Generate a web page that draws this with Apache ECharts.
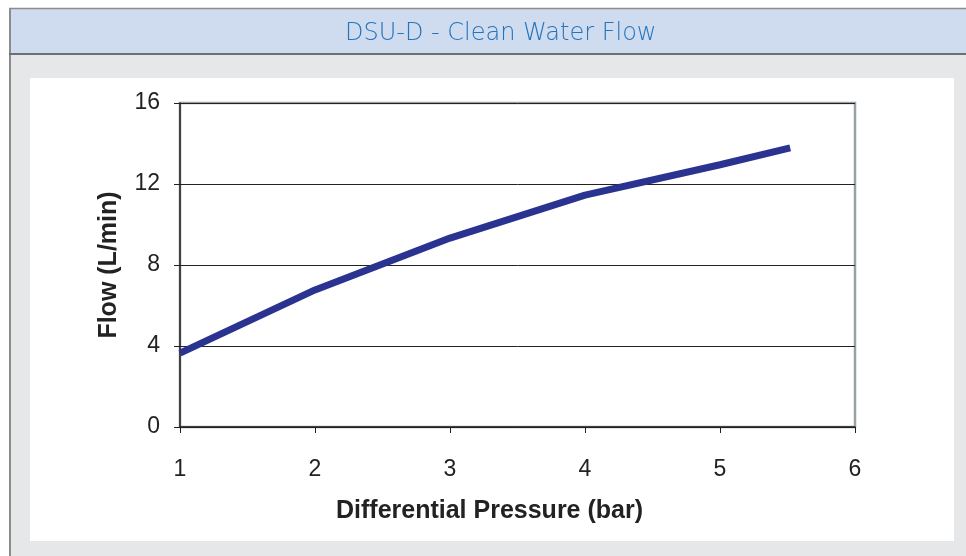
<!DOCTYPE html>
<html><head><meta charset="utf-8">
<script src="https://cdn.jsdelivr.net/npm/echarts@6/dist/echarts.min.js"></script>
<style>html,body{margin:0;padding:0;background:#fff}#c{width:966px;height:556px}</style>
</head><body><div id="c"></div>
<script>
const pressure = [1, 2, 3, 4, 5, 5.52];
const flow = [3.65, 6.77, 9.33, 11.45, 12.95, 13.78];
const xTicks = [1, 2, 3, 4, 5, 6];
const yTicks = [0, 4, 8, 12, 16];

const chart = echarts.init(document.getElementById('c'));
chart.setOption({
  animation: false,
  title: {
    text: 'DSU-D - Clean Water Flow', left: 345, top: 22, padding: 0,
    textStyle: {color: '#2274bd', fontSize: 24, fontWeight: 200, fontFamily: 'DejaVu Sans'}
  },
  graphic: [
    {type: 'rect', z: -10, shape: {x: 9, y: 54, width: 980, height: 520}, style: {fill: '#e6e7e8'}},
    {type: 'rect', z: -9, shape: {x: 9, y: 8, width: 980, height: 46}, style: {fill: '#cfdbef'}},
    {type: 'line', z: -7, shape: {x1: 10, y1: 8, x2: 10, y2: 556}, style: {stroke: '#8a8c8e', lineWidth: 2}},
    {type: 'line', z: -7, shape: {x1: 9, y1: 8.5, x2: 966, y2: 8.5}, style: {stroke: '#8a8c8e', lineWidth: 1.5}},
    {type: 'line', z: -7, shape: {x1: 9, y1: 54, x2: 966, y2: 54}, style: {stroke: '#6d7073', lineWidth: 2}},
    {type: 'rect', z: -8, shape: {x: 30, y: 78, width: 924, height: 463}, style: {fill: '#ffffff'}},
    {type: 'rect', z: -1, shape: {x: 180, y: 103, width: 675, height: 324}, style: {fill: 'none', stroke: '#9aa0a6', lineWidth: 2.5}}
  ],
  grid: {left: 180, top: 103, width: 675, height: 324, show: false},
  xAxis: {
    type: 'value', min: 1, max: 6, interval: 1,
    name: 'Differential Pressure (bar)', nameLocation: 'middle', nameGap: 72,
    nameTextStyle: {fontFamily: 'Liberation Sans', fontWeight: 'bold', fontSize: 25, color: '#222', padding: [0, 56, 0, 0]},
    axisLine: {show: true, lineStyle: {color: '#222', width: 1.5}},
    axisTick: {show: true, length: 6, inside: false, lineStyle: {color: '#222'}},
    axisLabel: {fontFamily: 'Liberation Sans', fontSize: 23, color: '#222', margin: 31,
      formatter: v => xTicks.includes(v) ? String(v) : ''},
    splitLine: {show: false}
  },
  yAxis: {
    type: 'value', min: 0, max: 16, interval: 4,
    name: 'Flow (L/min)', nameLocation: 'middle', nameGap: 58, nameRotate: 90,
    nameTextStyle: {fontFamily: 'Liberation Sans', fontWeight: 'bold', fontSize: 25, color: '#222'},
    axisLine: {show: true, lineStyle: {color: '#222', width: 1.5}},
    axisTick: {show: true, length: 6, lineStyle: {color: '#222'}},
    axisLabel: {fontFamily: 'Liberation Sans', fontSize: 23, color: '#222', margin: 20,
      formatter: v => yTicks.includes(v) ? String(v) : ''},
    splitLine: {show: true, lineStyle: {color: '#222', width: 1}}
  },
  series: [{
    type: 'line', data: pressure.map((p, i) => [p, flow[i]]),
    showSymbol: false, symbol: 'none',
    lineStyle: {color: '#2b3391', width: 7, cap: 'butt'}
  }]
});
</script></body></html>
